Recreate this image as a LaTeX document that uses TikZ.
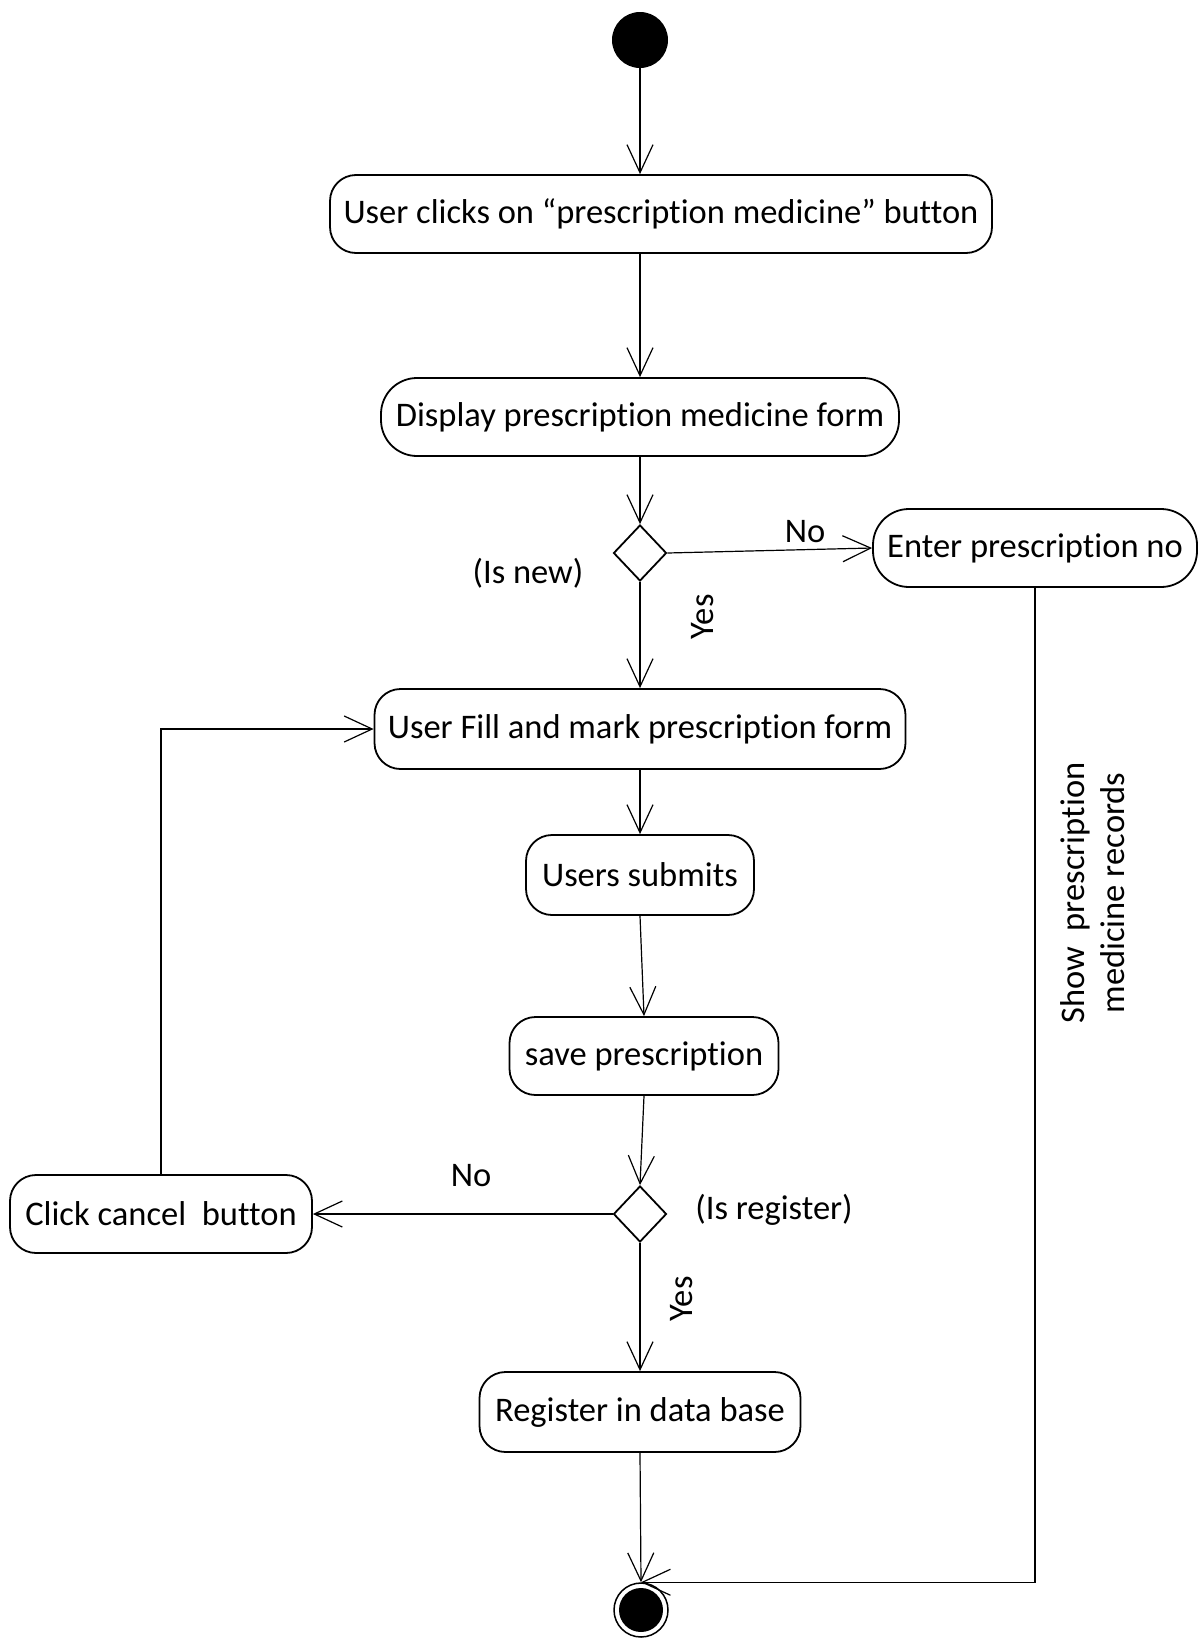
\documentclass[tikz,border=0pt]{standalone}
\usepackage{fontspec}
\setmainfont{Carlito}[Ligatures=NoCommon]
\usetikzlibrary{arrows.meta,shapes.geometric}
\begin{document}
\begin{tikzpicture}[x=1pt,y=-1pt,
  act/.style={draw,line width=1.8pt,rounded corners=26pt,minimum height=78pt,
    inner sep=0pt,font=\fontsize{34.5}{40}\selectfont},
  decision/.style={draw,diamond,line width=1.8pt,minimum width=53pt,minimum height=56pt,inner sep=0pt},
  flow/.style={line width=1.2pt,-{Straight Barb[length=28pt,width=26pt,line width=1.2pt]}},
  lbl/.style={font=\fontsize{34.5}{40}\selectfont,inner sep=0pt}]
\useasboundingbox (0,0) rectangle (1203,1638);

% start and end states
\node[circle,fill=black,minimum size=56pt,inner sep=0pt] (start) at (640,40) {};
\node[circle,draw,line width=1.5pt,minimum size=54pt,inner sep=0pt] (end) at (641,1610) {};
\fill (end.center) circle (22pt);

% actions
\node[act,minimum width=662pt] (a1) at (661,214) {User clicks on “prescription medicine” button};
\node[act,rounded corners=36pt,minimum width=518pt] (a2) at (640,417) {Display prescription medicine form};
\node[decision] (d1) at (640,553) {};
\node[act,rounded corners=36pt,minimum width=324pt] (enter) at (1035,548) {Enter prescription no};
\node[act,minimum width=531pt,minimum height=80pt] (a3) at (640,729) {User Fill and mark prescription form};
\node[act,minimum width=228pt,minimum height=80pt] (a4) at (640,875) {Users submits};
\node[act,minimum width=269pt] (a5) at (644,1056) {save prescription};
\node[decision] (d2) at (640,1214) {};
\node[act,minimum width=302pt] (cancel) at (161,1214) {Click cancel\ \ button};
\node[act,minimum width=321pt,minimum height=80pt] (a6) at (640,1412) {Register in data base};

% transitions
\draw[flow] (start) -- (start |- a1.north);
\draw[flow] (a1.south -| a2.north) -- (a2.north);
\draw[flow] (a2) -- (d1.north);
\draw[flow] (d1.east) -- (enter.west);
\draw[flow] (d1.south) -- (a3.north);
\draw[flow] (a3.south) -- (a4.north);
\draw[flow] (a4.south) -- (a5.north);
\draw[flow] (a5.south) -- (d2.north);
\draw[flow] (d2.west) -- (cancel.east);
\draw[flow] (d2.south) -- (a6.north);
\draw[flow] (a6.south) -- (end.north);
\draw[flow] (cancel.north) |- (a3.west);
\draw[flow] (enter.south) |- (end.north);

% guards and notes
\node[lbl] (no1) at (805,532) {No};
\node[lbl] (isnew) at (528,573) {(Is new)};
\node[lbl,rotate=90] (yes1) at (703,617) {Yes};
\node[lbl] (no2) at (471,1176) {No};
\node[lbl] (isreg) at (774,1210) {(Is register)};
\node[lbl,rotate=90] (yes2) at (682,1299) {Yes};
\node[lbl,rotate=90,align=center] (show) at (1093,893) {Show\ \ prescription\\medicine records};
\end{tikzpicture}
\end{document}
